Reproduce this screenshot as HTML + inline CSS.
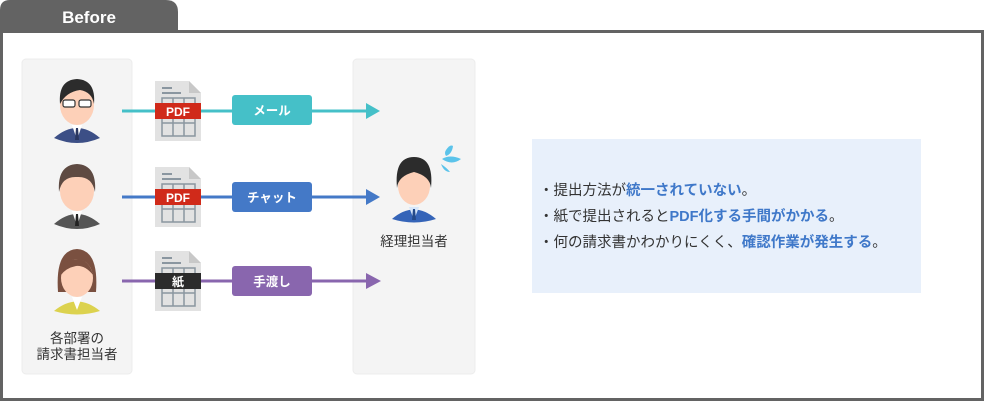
<!DOCTYPE html>
<html><head><meta charset="utf-8"><style>
body{margin:0;width:984px;height:401px;overflow:hidden;background:#fff;font-family:"Liberation Sans","Noto Sans CJK JP",sans-serif}
</style></head><body>
<svg width="984" height="401" viewBox="0 0 984 401" xmlns="http://www.w3.org/2000/svg" font-family="Liberation Sans, Noto Sans CJK JP, sans-serif">
<path d="M0 30 V10 Q0 0 10 0 H166 Q178 0 178 12 V30 Z" fill="#636363"/>
<text x="89" y="23" fill="#fff" font-size="17" font-weight="bold" text-anchor="middle">Before</text>
<rect x="1.5" y="31.5" width="981" height="368" fill="#fff" stroke="#636363" stroke-width="3"/>
<rect x="22" y="59" width="110" height="315" rx="4" fill="#f4f4f4" stroke="#ececec"/>
<rect x="353" y="59" width="122" height="315" rx="4" fill="#f4f4f4" stroke="#ececec"/>
<rect x="532" y="139" width="389" height="154" fill="#e8f0fb"/>
<g font-size="14.5" fill="#333">
<text x="539" y="195">・提出方法が<tspan fill="#3f78c9" font-weight="bold">統一されていない</tspan>。</text>
<text x="539" y="221">・紙で提出されると<tspan fill="#3f78c9" font-weight="bold">PDF化する手間がかかる</tspan>。</text>
<text x="539" y="247">・何の請求書かわかりにくく、<tspan fill="#3f78c9" font-weight="bold">確認作業が発生する</tspan>。</text>
</g>
<g font-size="13.5" fill="#333" text-anchor="middle">
<text x="77" y="343">各部署の</text><text x="77" y="359">請求書担当者</text>
<text x="414" y="246">経理担当者</text>
</g>
<g stroke-width="3">
<line x1="122" y1="111" x2="368" y2="111" stroke="#45c0c8"/>
<line x1="122" y1="197" x2="368" y2="197" stroke="#4479c7"/>
<line x1="122" y1="281" x2="368" y2="281" stroke="#8966ae"/>
</g>
<polygon points="366,103 380,111 366,119" fill="#45c0c8"/>
<polygon points="366,189 380,197 366,205" fill="#4479c7"/>
<polygon points="366,273 381,281 366,289" fill="#8966ae"/>
<g id="doc">
<path d="M155 81 H189 L201 93 V141 H155 Z" fill="#e2e2e2"/>
<path d="M189 81 L201 93 H189 Z" fill="#c8c8c8"/>
<rect x="162" y="87" width="10" height="2" fill="#8a96a0"/><rect x="162" y="92" width="19" height="2" fill="#8a96a0"/>
<rect x="162" y="98" width="33" height="38" fill="none" stroke="#8a96a0" stroke-width="1.5"/>
<line x1="173" y1="98" x2="173" y2="136" stroke="#8a96a0" stroke-width="1.5"/>
<line x1="184" y1="98" x2="184" y2="136" stroke="#8a96a0" stroke-width="1.5"/>
<line x1="162" y1="123" x2="195" y2="123" stroke="#8a96a0" stroke-width="1.5"/>
</g>
<use href="#doc" y="86"/><use href="#doc" y="170"/>
<rect x="155" y="103" width="46" height="16" fill="#d02a1a"/>
<rect x="155" y="189" width="46" height="16" fill="#d02a1a"/>
<rect x="155" y="273" width="46" height="16" fill="#2b2b2b"/>
<g fill="#fff" font-size="12" font-weight="bold" text-anchor="middle">
<text x="178" y="116">PDF</text><text x="178" y="202">PDF</text><text x="178" y="286">紙</text>
</g>
<rect x="232" y="95" width="80" height="30" rx="3" fill="#45c0c8"/>
<rect x="232" y="182" width="80" height="30" rx="3" fill="#4479c7"/>
<rect x="232" y="266" width="80" height="30" rx="3" fill="#8966ae"/>
<g fill="#fff" font-size="12.5" font-weight="bold" text-anchor="middle">
<text x="272" y="115">メール</text><text x="272" y="202">チャット</text><text x="272" y="286">手渡し</text>
</g>
<g>
<path d="M54 138 Q77 118 100 138 Q77 148 54 138Z" fill="#3c4f86"/>
<path d="M72 125 H82 L77 140Z" fill="#fff"/><path d="M76 128 H78 L79 140 H75Z" fill="#2a3760"/>
<ellipse cx="77" cy="105" rx="17" ry="20" fill="#fdd0b8"/>
<path d="M60 104 Q58 80 77 79 Q96 80 94 104 Q92 92 80 90 Q66 92 60 104Z" fill="#2c2c2c"/>
<rect x="63" y="100" width="12" height="7" rx="2" fill="#fff" stroke="#333" stroke-width="1.2"/>
<rect x="79" y="100" width="12" height="7" rx="2" fill="#fff" stroke="#333" stroke-width="1.2"/>
</g>
<g>
<path d="M54 224 Q77 204 100 224 Q77 234 54 224Z" fill="#555"/>
<path d="M72 211 H82 L77 226Z" fill="#fff"/><path d="M76 214 H78 L79 226 H75Z" fill="#222"/>
<ellipse cx="77" cy="191" rx="17" ry="20" fill="#fdd0b8"/>
<path d="M59 192 Q57 165 77 164 Q97 165 95 192 Q92 176 77 177 Q62 176 59 192Z" fill="#5e4a42"/>
</g>
<g>
<path d="M54 311 Q77 292 100 311 Q77 318 54 311Z" fill="#dcd24e"/>
<path d="M72 297 H82 L77 310Z" fill="#fff"/>
<path d="M58 292 Q55 250 77 249 Q99 250 96 292 Z" fill="#7a5040"/>
<ellipse cx="77" cy="278" rx="16" ry="19" fill="#fdd0b8"/>
<path d="M61 275 Q62 258 80 259 Q90 262 93 275 Q85 265 76 266 Q66 268 61 275Z" fill="#7a5040"/>
</g>
<g>
<path d="M392 219 Q414 200 436 219 Q414 226 392 219Z" fill="#3564b8"/>
<path d="M409 207 H419 L414 220Z" fill="#d6e6fa"/><path d="M413 209 H415 L416 220 H412Z" fill="#244a8a"/>
<ellipse cx="414" cy="186" rx="16" ry="19" fill="#fdd0b8"/>
<path d="M397 188 Q394 157 414 157 Q434 157 431 188 Q430 176 414 172 Q398 176 397 188Z" fill="#2c2c2c"/>
<path d="M446 150 Q450 144 453 146 Q452 154 446 156 Q444 153 446 150Z" fill="#5bc3ea"/>
<path d="M442 159 Q450 154 461 159 Q452 166 442 159Z" fill="#5bc3ea"/>
<path d="M441 164 Q447 168 450 172 Q444 172 441 164Z" fill="#5bc3ea"/>
</g>
</svg>
</body></html>
